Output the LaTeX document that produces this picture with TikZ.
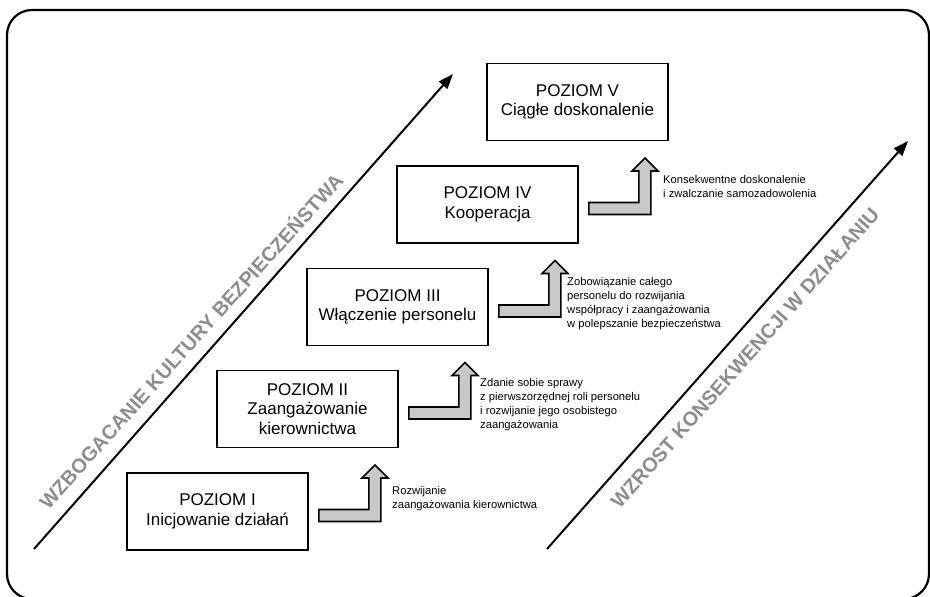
\documentclass[tikz,border=0pt]{standalone}
\usepackage{fontspec}
\setmainfont{Liberation Sans}
\usetikzlibrary{arrows.meta,calc}
\definecolor{arrowgray}{RGB}{200,200,200}
\definecolor{labelgray}{RGB}{140,140,140}
\begin{document}
\begin{tikzpicture}[x=1pt,y=-1pt,
  level/.style={draw,line width=1.8pt,minimum width=181pt,minimum height=77pt,
    inner sep=0pt,align=center,font=\fontsize{17}{19.5}\selectfont},
  note/.style={anchor=west,inner sep=0pt,align=left,font=\fontsize{11.2}{14}\selectfont},
  axis/.style={line width=2pt,-{Triangle[length=15pt,width=11pt]}},
  axislabel/.style={text=labelgray,inner sep=0pt,font=\fontsize{20}{24}\selectfont\bfseries},
  stairarrow/.pic={
    \draw[line width=1.6pt,fill=arrowgray,line join=miter]
      (10,-2) -- (60,-2) -- (60,-33.5) -- (53,-33.5) -- (66,-46.5)
      -- (79,-33.5) -- (72,-33.5) -- (72,10) -- (10,10) -- cycle;
  }]
\useasboundingbox (0,0) rectangle (930,597);
\clip (0,0) rectangle (930,597);

% outer frame
\draw[line width=2.2pt,rounded corners=25pt] (7,10) rectangle (929,599);

% the five levels
\node[level] (b1) at (217.5,511.5) {POZIOM I\\Inicjowanie działań};
\node[level] (b2) at (307.5,409)   {POZIOM II\\Zaangażowanie\\kierownictwa};
\node[level] (b3) at (397.5,307)   {POZIOM III\\Włączenie personelu};
\node[level] (b4) at (487.5,204.5) {POZIOM IV\\Kooperacja};
\node[level] (b5) at (577.5,102)   {POZIOM V\\Ciągłe doskonalenie};

% step arrows between levels
\pic at (b1.east) {stairarrow};
\pic at (b2.east) {stairarrow};
\pic at (b3.east) {stairarrow};
\pic at (b4.east) {stairarrow};

% step descriptions
\node[note] (n1) at (392,499) {Rozwijanie\\zaangażowania kierownictwa};
\node[note] (n2) at (480,405) {Zdanie sobie sprawy\\z pierwszorzędnej roli personelu\\i rozwijanie jego osobistego\\zaangażowania};
\node[note] (n3) at (567,304) {Zobowiązanie całego\\personelu do rozwijania\\współpracy i zaangażowania\\w polepszanie bezpieczeństwa};
\node[note] (n4) at (663,186.5) {Konsekwentne doskonalenie\\i zwalczanie samozadowolenia};

% diagonal axes
\coordinate (l0) at (34,549);
\coordinate (l1) at (453,74);
\coordinate (r0) at (547,549);
\coordinate (r1) at (908,141);
\draw[axis] (l0) -- (l1);
\draw[axis] (r0) -- (r1);

\node[axislabel,rotate=48] (t1) at (190,340) {WZBOGACANIE KULTURY BEZPIECZEŃSTWA};
\node[axislabel,rotate=48.5] (t2) at (745,358) {WZROST KONSEKWENCJI W DZIAŁANIU};
\end{tikzpicture}
\end{document}
